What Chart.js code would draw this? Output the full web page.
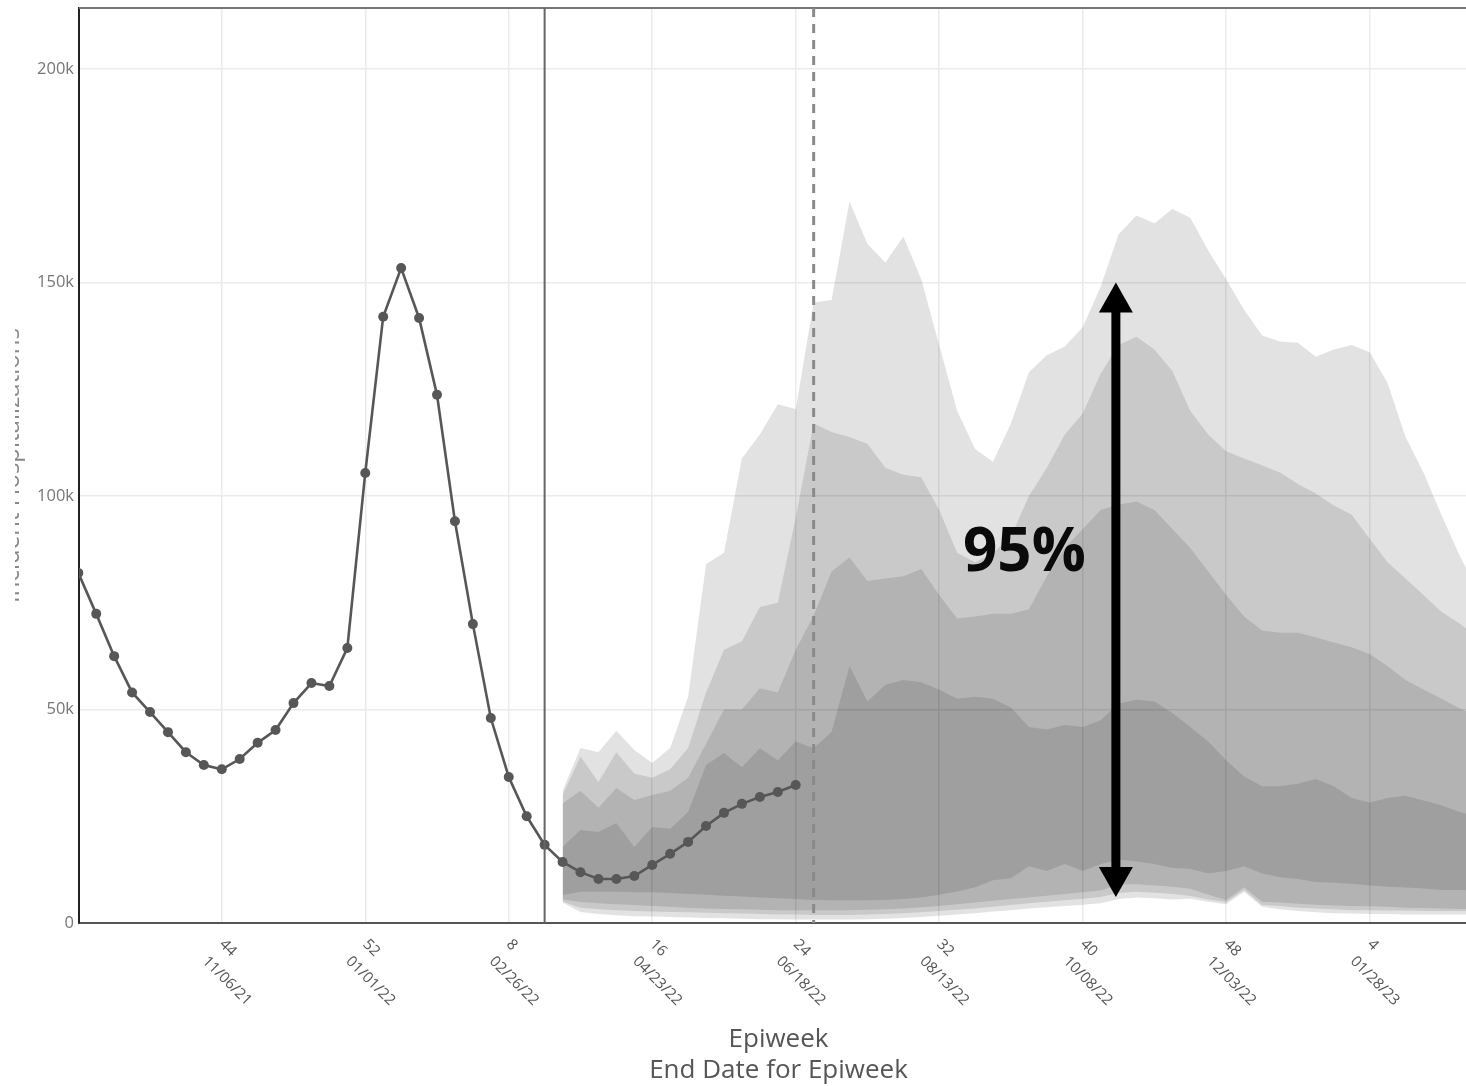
<!DOCTYPE html>
<html>
<head>
<meta charset="utf-8">
<script src="https://cdn.jsdelivr.net/npm/chart.js@4.4.1/dist/chart.umd.min.js"></script>
<style>
html, body { margin: 0; padding: 0; background: #fff; overflow: hidden; }
#wrap { position: absolute; left: 15px; top: 0; width: 1468px; height: 1086px; }
</style>
</head>
<body>
<div id="wrap"><canvas id="chart" width="1468" height="1086"></canvas></div>
<script>
// week index 0 = epiweek 44 of 2021 (11/06/21); values in thousands
const tickIdx = [0, 8, 16, 24, 32, 40, 48, 56, 64];
const tickWeeks = ['44', '52', '8', '16', '24', '32', '40', '48', '4'];
const tickDates = ['11/06/21', '01/01/22', '02/26/22', '04/23/22', '06/18/22', '08/13/22', '10/08/22', '12/03/22', '01/28/23'];
const yTicks = [0, 50, 100, 150, 200];

// observed hospitalizations, weeks -8 .. 32
const obsStart = -8;
const obsValues = [82, 72.4, 62.5, 54, 49.4, 44.7, 40, 37, 36, 38.4, 42.2, 45.2, 51.5, 56.2, 55.5, 64.4,
  105.4, 142, 153.4, 141.7, 123.7, 94.1, 70, 48, 34.2, 25, 18.3, 14.3, 11.9, 10.3, 10.3, 11, 13.6,
  16.2, 19, 22.7, 25.8, 27.9, 29.5, 30.7, 32.3];

// projection bands, weeks 19 .. 70 (outer -> inner)
const fcStart = 19;
const upper95 = [31, 41, 40, 45, 40.5, 37.5, 41, 53, 84, 86.7,
  108.8, 114.4, 121.5, 120.4, 145.3, 145.9, 169, 159, 154.7, 160.8,
  150.8, 135.4, 120, 111, 108, 117, 129, 133, 135, 139.5,
  149, 161.3, 165.7, 163.9, 167.2, 165.2, 157.5, 150.8, 143.6, 137.6,
  136.2, 135.9, 132.6, 134.3, 135.4, 133.7, 126.5, 113.8, 105.5, 95.6,
  86.2, 78];
const lower95 = [4.8, 2.6, 2.1, 1.8, 1.6, 1.5, 1.4, 1.3, 1.2, 1.1,
  1.0, 0.9, 0.9, 0.8, 0.8, 0.8, 0.8, 0.9, 1.0, 1.2,
  1.4, 1.7, 2.0, 2.3, 2.7, 3.0, 3.4, 3.7, 4.0, 4.3,
  4.6, 5.6, 6.0, 5.8, 5.5, 5.7, 5.0, 4.4, 7.3, 3.8,
  3.2, 2.8, 2.5, 2.3, 2.2, 2.1, 2.1, 2.0, 2.0, 2.0,
  2.0, 2.0];
const upper90 = [30, 39, 33, 40, 35, 34, 36, 41, 54, 64,
  66, 74, 75, 95, 117, 115, 113.8, 112.2, 106.6, 105,
  104.4, 96.7, 86.7, 84.5, 86.7, 90.5, 100, 106.6, 114.4, 119.3,
  128.7, 135.4, 137.3, 134.3, 129.3, 119.9, 114.4, 110.5, 108.8, 107.2,
  105.5, 102.8, 100.6, 97.8, 95.6, 90, 84.5, 80.7, 76.8, 72.9,
  70.2, 67];
const lower90 = [5.0, 3.6, 3.2, 3.0, 2.8, 2.7, 2.6, 2.5, 2.4, 2.3,
  2.2, 2.1, 2.0, 2.0, 1.9, 1.9, 1.9, 2.0, 2.1, 2.3,
  2.5, 2.8, 3.1, 3.4, 3.8, 4.2, 4.6, 5.0, 5.3, 5.7,
  6.1, 7.0, 7.3, 7.1, 6.8, 6.3, 5.5, 4.9, 7.7, 4.2,
  4.0, 3.6, 3.4, 3.2, 3.0, 3.0, 2.9, 2.9, 2.8, 2.8,
  2.8, 2.8];
const upper80 = [28, 31, 27, 31.6, 28.8, 30, 31, 34, 42, 50,
  50, 55, 54, 64, 72, 82.3, 85.6, 80.1, 80.7, 81.2,
  82.9, 76.8, 71.3, 71.8, 72.4, 72.4, 73.5, 81.2, 87.8, 92.3,
  96.7, 98, 98.7, 96.7, 92.3, 87.8, 82.3, 76.8, 71.8, 68.5,
  68, 68, 66.9, 65.7, 64.6, 63, 60.2, 56.9, 54.7, 52.5,
  50.3, 48.5];
const lower80 = [5.5, 4.9, 4.6, 4.4, 4.2, 4.0, 3.8, 3.6, 3.4, 3.3,
  3.2, 3.1, 3.0, 3.0, 3.0, 3.0, 3.0, 3.1, 3.2, 3.4,
  3.7, 4.0, 4.4, 4.8, 5.2, 5.6, 6.0, 6.4, 6.8, 7.2,
  7.6, 9.0, 9.1, 8.8, 8.5, 8.0, 6.6, 5.4, 8.4, 5.0,
  4.8, 4.5, 4.3, 4.1, 4.0, 3.9, 3.8, 3.6, 3.5, 3.4,
  3.3, 3.3];
const upper50 = [17.8, 21.8, 21.3, 23.4, 17.8, 22.5, 22.1, 26, 37, 39.8,
  36.5, 40.9, 38.1, 42.5, 40.9, 44.8, 60.2, 51.9, 55.8, 56.9,
  56.4, 54.7, 52.5, 53, 52.5, 50.5, 45.9, 45.3, 46.4, 45.9,
  47.5, 51.4, 52.3, 51.9, 49.2, 45.9, 42.5, 38.1, 34.3, 32,
  32, 32.6, 33.7, 32, 29.3, 28.2, 29.3, 29.8, 28.7, 27.6,
  26, 25];
const lower50 = [6.5, 7.3, 7.3, 7.3, 7.2, 7.2, 7.0, 6.8, 6.6, 6.4,
  6.2, 6.0, 5.8, 5.6, 5.4, 5.3, 5.3, 5.3, 5.4, 5.6,
  6.0, 6.6, 7.4, 8.4, 10.0, 10.5, 13.3, 12.2, 13.8, 12.2,
  13.8, 14.9, 14.4, 13.8, 12.9, 12.7, 11.6, 12.2, 13.3, 11.6,
  10.7, 10.3, 9.6, 9.4, 9.2, 8.8, 8.5, 8.3, 8.1, 7.7,
  7.7, 7.6];

// vertical markers: end of fitting window (solid) and projection start (dashed)
const fitEndWeek = 18;
const projStartWeek = 33;

// annotation: 95% interval arrow
const arrowNote = { week: 49.85, top: 150, bottom: 6.1, text: '95%', textWeek: 44.75, textValue: 82.4 };

Chart.defaults.font.family = '"Open Sans", sans-serif';

function toPoints(values, start) {
  return values.map((v, k) => ({ x: start + k, y: v }));
}

const bandPairs = [[lower95, upper95], [lower90, upper90], [lower80, upper80], [lower50, upper50]];

var datasets = [{
  label: 'Observed',
  data: toPoints(obsValues, obsStart),
  borderColor: '#575757',
  backgroundColor: '#575757',
  borderWidth: 2.6,
  pointRadius: 5,
  pointBorderWidth: 0,
  pointBackgroundColor: '#575757',
  fill: false,
  tension: 0,
  clip: 0,
  order: 0
}];

bandPairs.forEach(pair => {
  datasets.push({
    data: toPoints(pair[0], fcStart),
    borderColor: 'rgba(0,0,0,0)',
    borderWidth: 0,
    pointRadius: 0,
    fill: false,
    clip: 0,
    order: 1
  });
  datasets.push({
    data: toPoints(pair[1], fcStart),
    borderColor: 'rgba(0,0,0,0)',
    borderWidth: 0,
    pointRadius: 0,
    backgroundColor: 'rgba(0,0,0,0.115)',
    fill: '-1',
    clip: 0,
    order: 1
  });
});

const decor = {
  id: 'decor',
  afterDatasetsDraw(chart) {
    const { ctx, chartArea: a, scales: { x, y } } = chart;
    ctx.save();
    // top frame line
    ctx.strokeStyle = '#777';
    ctx.lineWidth = 2;
    ctx.beginPath();
    ctx.moveTo(a.left, a.top);
    ctx.lineTo(a.right, a.top);
    ctx.stroke();

    // solid line at end of fit window
    const xf = x.getPixelForValue(fitEndWeek);
    ctx.strokeStyle = '#666';
    ctx.lineWidth = 2;
    ctx.beginPath();
    ctx.moveTo(xf, a.top);
    ctx.lineTo(xf, a.bottom);
    ctx.stroke();

    // dashed line at projection start
    const xp = x.getPixelForValue(projStartWeek);
    ctx.strokeStyle = '#8a8a8a';
    ctx.lineWidth = 3;
    ctx.setLineDash([9, 7]);
    ctx.beginPath();
    ctx.moveTo(xp, a.top);
    ctx.lineTo(xp, a.bottom);
    ctx.stroke();
    ctx.setLineDash([]);

    // double headed arrow
    const ax = x.getPixelForValue(arrowNote.week);
    const yT = y.getPixelForValue(arrowNote.top);
    const yB = y.getPixelForValue(arrowNote.bottom);
    const head = 30, hw = 17;
    ctx.fillStyle = '#000';
    ctx.fillRect(ax - 4.5, yT + head - 2, 9, yB - yT - 2 * head + 4);
    ctx.beginPath();
    ctx.moveTo(ax, yT);
    ctx.lineTo(ax + hw, yT + head);
    ctx.lineTo(ax - hw, yT + head);
    ctx.closePath();
    ctx.fill();
    ctx.beginPath();
    ctx.moveTo(ax, yB);
    ctx.lineTo(ax + hw, yB - head);
    ctx.lineTo(ax - hw, yB - head);
    ctx.closePath();
    ctx.fill();

    ctx.font = 'bold 60px "Open Sans", sans-serif';
    ctx.textAlign = 'center';
    ctx.textBaseline = 'alphabetic';
    ctx.fillStyle = '#0a0a0a';
    ctx.fillText(arrowNote.text, x.getPixelForValue(arrowNote.textWeek), y.getPixelForValue(arrowNote.textValue));
    ctx.restore();
  },
  afterDraw(chart) {
    const { ctx, chartArea: a, scales: { x } } = chart;
    ctx.save();
    // rotated two-line x tick labels
    ctx.font = '15px "Open Sans", sans-serif';
    ctx.fillStyle = '#555';
    ctx.textAlign = 'left';
    ctx.textBaseline = 'alphabetic';
    tickIdx.forEach((v, k) => {
      const px = x.getPixelForValue(v);
      ctx.save();
      ctx.translate(px - 3, a.bottom + 22);
      ctx.rotate(Math.PI / 4);
      ctx.fillText(tickWeeks[k], 0, 0);
      ctx.fillText(tickDates[k], 0, 24);
      ctx.restore();
    });
    // y axis title (mostly cut off at the left edge)
    ctx.font = '24px "Open Sans", sans-serif';
    ctx.fillStyle = '#888';
    ctx.textAlign = 'center';
    ctx.translate(3.5, (a.top + a.bottom) / 2);
    ctx.rotate(-Math.PI / 2);
    ctx.fillText('Incident Hospitalizations', 0, 0);
    ctx.restore();
  }
};

var ctx = document.getElementById('chart').getContext('2d');
var myChart = new Chart(ctx, {
  type: 'line',
  data: { datasets: datasets },
  options: {
    responsive: false,
    devicePixelRatio: 1,
    animation: false,
    layout: { padding: { top: 8, right: 0, bottom: 0, left: 0 } },
    plugins: {
      legend: { display: false },
      tooltip: { enabled: false },
      title: { display: false }
    },
    scales: {
      x: {
        type: 'linear',
        min: -7.96,
        max: 70.04,
        afterBuildTicks: s => { s.ticks = tickIdx.map(v => ({ value: v })); },
        afterFit: s => { s.height = 163; s.paddingLeft = 0; s.paddingRight = 0; },
        grid: { color: '#ebebeb', lineWidth: 1.5, drawTicks: false },
        border: { color: '#555', width: 2 },
        ticks: { display: false },
        title: {
          display: true,
          text: ['Epiweek', 'End Date for Epiweek'],
          color: '#555',
          font: { size: 26, lineHeight: 1.19 },
          padding: 0
        }
      },
      y: {
        type: 'linear',
        min: 0,
        max: 214.3,
        afterBuildTicks: s => { s.ticks = yTicks.map(v => ({ value: v })); },
        afterFit: s => { s.width = 64; s.paddingTop = 0; s.paddingBottom = 0; },
        grid: { color: '#ebebeb', lineWidth: 1.5, drawTicks: false },
        border: { color: '#222', width: 2 },
        ticks: {
          color: '#777',
          font: { size: 16.5 },
          padding: 5,
          callback: v => v === 0 ? '0' : v + 'k'
        }
      }
    }
  },
  plugins: [decor]
});
</script>
</body>
</html>
